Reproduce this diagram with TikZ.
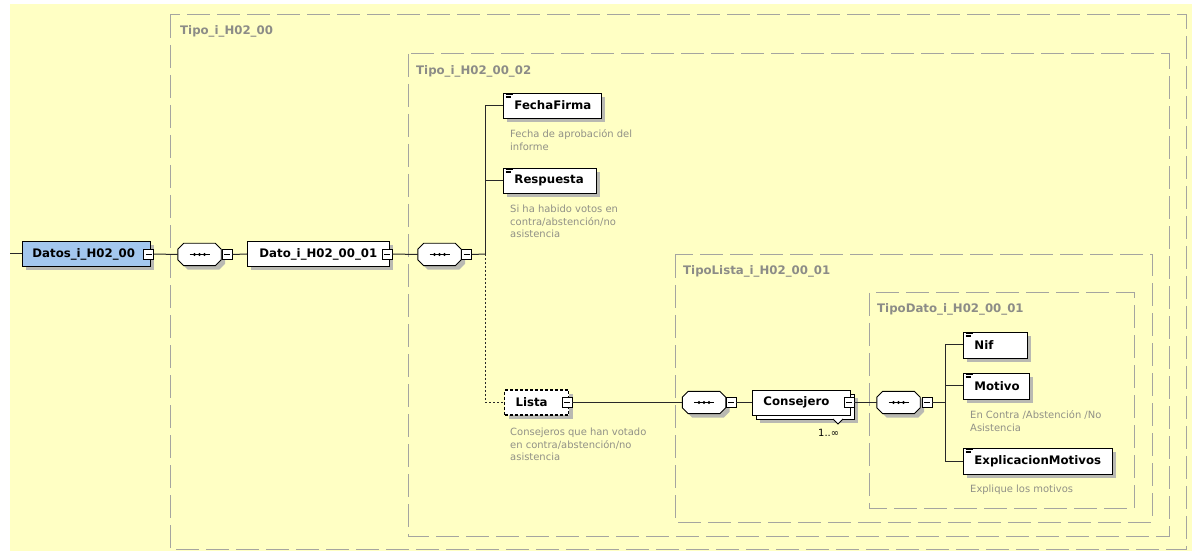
\documentclass[tikz,border=0pt]{standalone}
\usepackage{fontspec}
\setmainfont{DejaVu Sans}
\usetikzlibrary{shadows,calc}
\definecolor{bgyellow}{RGB}{255,255,196}
\definecolor{blueel}{RGB}{163,199,238}
\definecolor{shgray}{RGB}{185,185,178}
\definecolor{grpgray}{RGB}{165,165,160}
\definecolor{grptext}{RGB}{140,140,135}
\definecolor{descgray}{RGB}{145,145,135}
\definecolor{linec}{RGB}{40,40,40}
\newcommand\elfont{\bfseries\fontsize{11.8}{14}\selectfont}
\newcommand\dsfont{\fontsize{10}{13}\selectfont}
\newcommand\seqshape[1]{%
  \filldraw[seqline] ([xshift=6bp]#1.north west) -- ([xshift=-6bp]#1.north east) -- ([yshift=-6bp]#1.north east) -- ([yshift=6bp]#1.south east) -- ([xshift=-6bp]#1.south east) -- ([xshift=6bp]#1.south west) -- ([yshift=6bp]#1.south west) -- ([yshift=-6bp]#1.north west) -- cycle;
  \draw[line width=1bp] ([xshift=-10bp]#1.center) -- ([xshift=10bp]#1.center);
  \foreach \d in {-5,0,5} \fill ([xshift=\d bp]#1.center) circle[radius=1.7bp];
}
\newcommand\annot[1]{%
  \draw[line width=0.6bp] ([shift={(2.5,2)}]#1.north west) -- +(7,0);
  \draw[line width=0.6bp] ([shift={(2.5,3.6)}]#1.north west) -- +(5,0);
  \draw[line width=0.6bp] ([shift={(2.5,5.2)}]#1.north west) -- +(5,0);
}
\begin{document}
\begin{tikzpicture}[x=1bp,y=-1bp,
  shad/.style={general shadow={fill=shgray, shadow xshift=4bp, shadow yshift=-4bp}},
  elbase/.style={draw=black, line width=0.9bp, fill=white, minimum height=25bp, inner ysep=0pt, inner xsep=11bp, align=left, font=\elfont, anchor=west},
  elem/.style={elbase, shad},
  seqnode/.style={minimum width=43bp, minimum height=22bp, inner sep=0pt, draw=none},
  seqline/.style={draw=black, line width=0.9bp, fill=white, shad},
  minus/.style={draw=black, line width=0.8bp, fill=white, minimum size=10bp, inner sep=0pt,
    path picture={\draw[line width=0.8bp] ([xshift=-3bp]path picture bounding box.center) -- ([xshift=3bp]path picture bounding box.center);}},
  conn/.style={draw=linec, line width=1bp},
  grp/.style={draw=grpgray, line width=1bp, dash pattern=on 23bp off 7bp},
  grplabel/.style={font=\elfont, text=grptext, anchor=base west, inner sep=0pt},
  desc/.style={font=\dsfont, text=descgray, anchor=north west, inner sep=0pt, align=left},
]
\useasboundingbox (0,0) rectangle (1192,551);
\fill[white] (0,0) rectangle (1192,551);
\fill[bgyellow] (10,4) rectangle (1192,551);

% group boxes
\draw[grp] (170,15) rectangle (1186,549);
\draw[grp] (408,54) rectangle (1169,536);
\draw[grp] (675,255) rectangle (1152,522);
\draw[grp] (869,293) rectangle (1134,508);
\node[grplabel] (g1) at (180,35) {Tipo\_i\_H02\_00};
\node[grplabel] (g2) at (416,75) {Tipo\_i\_H02\_00\_02};
\node[grplabel] (g3) at (683,275) {TipoLista\_i\_H02\_00\_01};
\node[grplabel] (g4) at (877,313) {TipoDato\_i\_H02\_00\_01};

% nodes main row
\coordinate (start) at (10,254);
\node[elem, fill=blueel, text width=106bp, inner xsep=10bp, text width=108bp] (datos) at (22,254) {Datos\_i\_H02\_00};
\node[minus] (mdatos) at (148.5,254) {};
\node[seqnode] (s1) at (199.5,254.5) {};
\node[minus] (ms1) at (227,254.5) {};
\node[elem, inner xsep=12bp, text width=118bp] (dato) at (247,254) {Dato\_i\_H02\_00\_01};
\node[minus] (mdato) at (387,254) {};
\node[seqnode] (s2) at (439.5,254.5) {};
\node[minus] (ms2) at (466.5,254.5) {};
\coordinate (v1) at (485.5,254);

% children of sequence 2
\node[elem, text width=76bp] (fecha) at (503,105.5) {FechaFirma};
\node[elem, text width=71bp] (resp) at (503,180.5) {Respuesta};
\node[elem, text width=42bp, dash pattern=on 3bp off 2bp, line width=1.1bp] (lista) at (504,402.5) {Lista};
\node[minus] (mlista) at (567,402.5) {};
\node[desc] (dfecha) at (510,129.3) {Fecha de aprobación del\\informe};
\node[desc] (dresp) at (510,204.3) {Si ha habido votos en\\contra/abstención/no\\asistencia};
\node[desc] (dlista) at (510,427.3) {Consejeros que han votado\\en contra/abstención/no\\asistencia};

% list
\node[seqnode] (s3) at (704,402.5) {};
\node[minus] (ms3) at (731,402.5) {};
\node[elem, text width=76bp] (consb) at (756,406.5) {};
\node[elbase, text width=76bp] (cons) at (752,402.5) {Consejero};
\node[minus] (mcons) at (849,402.5) {};
\filldraw[draw=black, fill=white, line width=0.8bp] (833,419) -- (838,424) -- (843,419);
\node[font=\dsfont, anchor=base west, inner sep=0pt] (card) at (818,436) {1..∞};
\node[seqnode] (s4) at (898.5,402.5) {};
\node[minus] (ms4) at (927,402.5) {};
\coordinate (v2) at (945,402.5);

\node[elem, text width=42bp, minimum height=26bp] (nif) at (963,345) {Nif};
\node[elem, text width=44bp, minimum height=26bp] (motivo) at (963,386) {Motivo};
\node[elem, text width=127bp, minimum height=26bp] (expl) at (963,461) {ExplicacionMotivos};
\node[desc] (dmotivo) at (970,410) {En Contra /Abstención /No\\Asistencia};
\node[desc] (dexpl) at (970,484.3) {Explique los motivos};

\seqshape{s1}
\seqshape{s2}
\seqshape{s3}
\seqshape{s4}
\node[minus] at (ms1) {};
\node[minus] at (ms2) {};
\node[minus] at (ms3) {};
\node[minus] at (ms4) {};

\annot{fecha}
\annot{resp}
\annot{nif}
\annot{motivo}
\annot{expl}

% connectors
\draw[conn] (start) -- (datos.west);
\draw[conn] (mdatos.east) -- (s1.west);
\draw[conn] (ms1.east) -- (dato.west);
\draw[conn] (mdato.east) -- (s2.west);
\draw[conn] (ms2.east) -- (v1);
\draw[conn] (v1) |- (fecha.west);
\draw[conn] (v1) |- (resp.west);
\draw[conn, dash pattern=on 2bp off 2bp] (v1) |- (lista.west);
\draw[conn] (mlista.east) -- (s3.west);
\draw[conn] (ms3.east) -- (cons.west);
\draw[conn] (mcons.east) -- (s4.west);
\draw[conn] (ms4.east) -- (v2);
\draw[conn] (v2) |- (nif.west);
\draw[conn] (v2) |- (motivo.west);
\draw[conn] (v2) |- (expl.west);
\end{tikzpicture}
\end{document}
